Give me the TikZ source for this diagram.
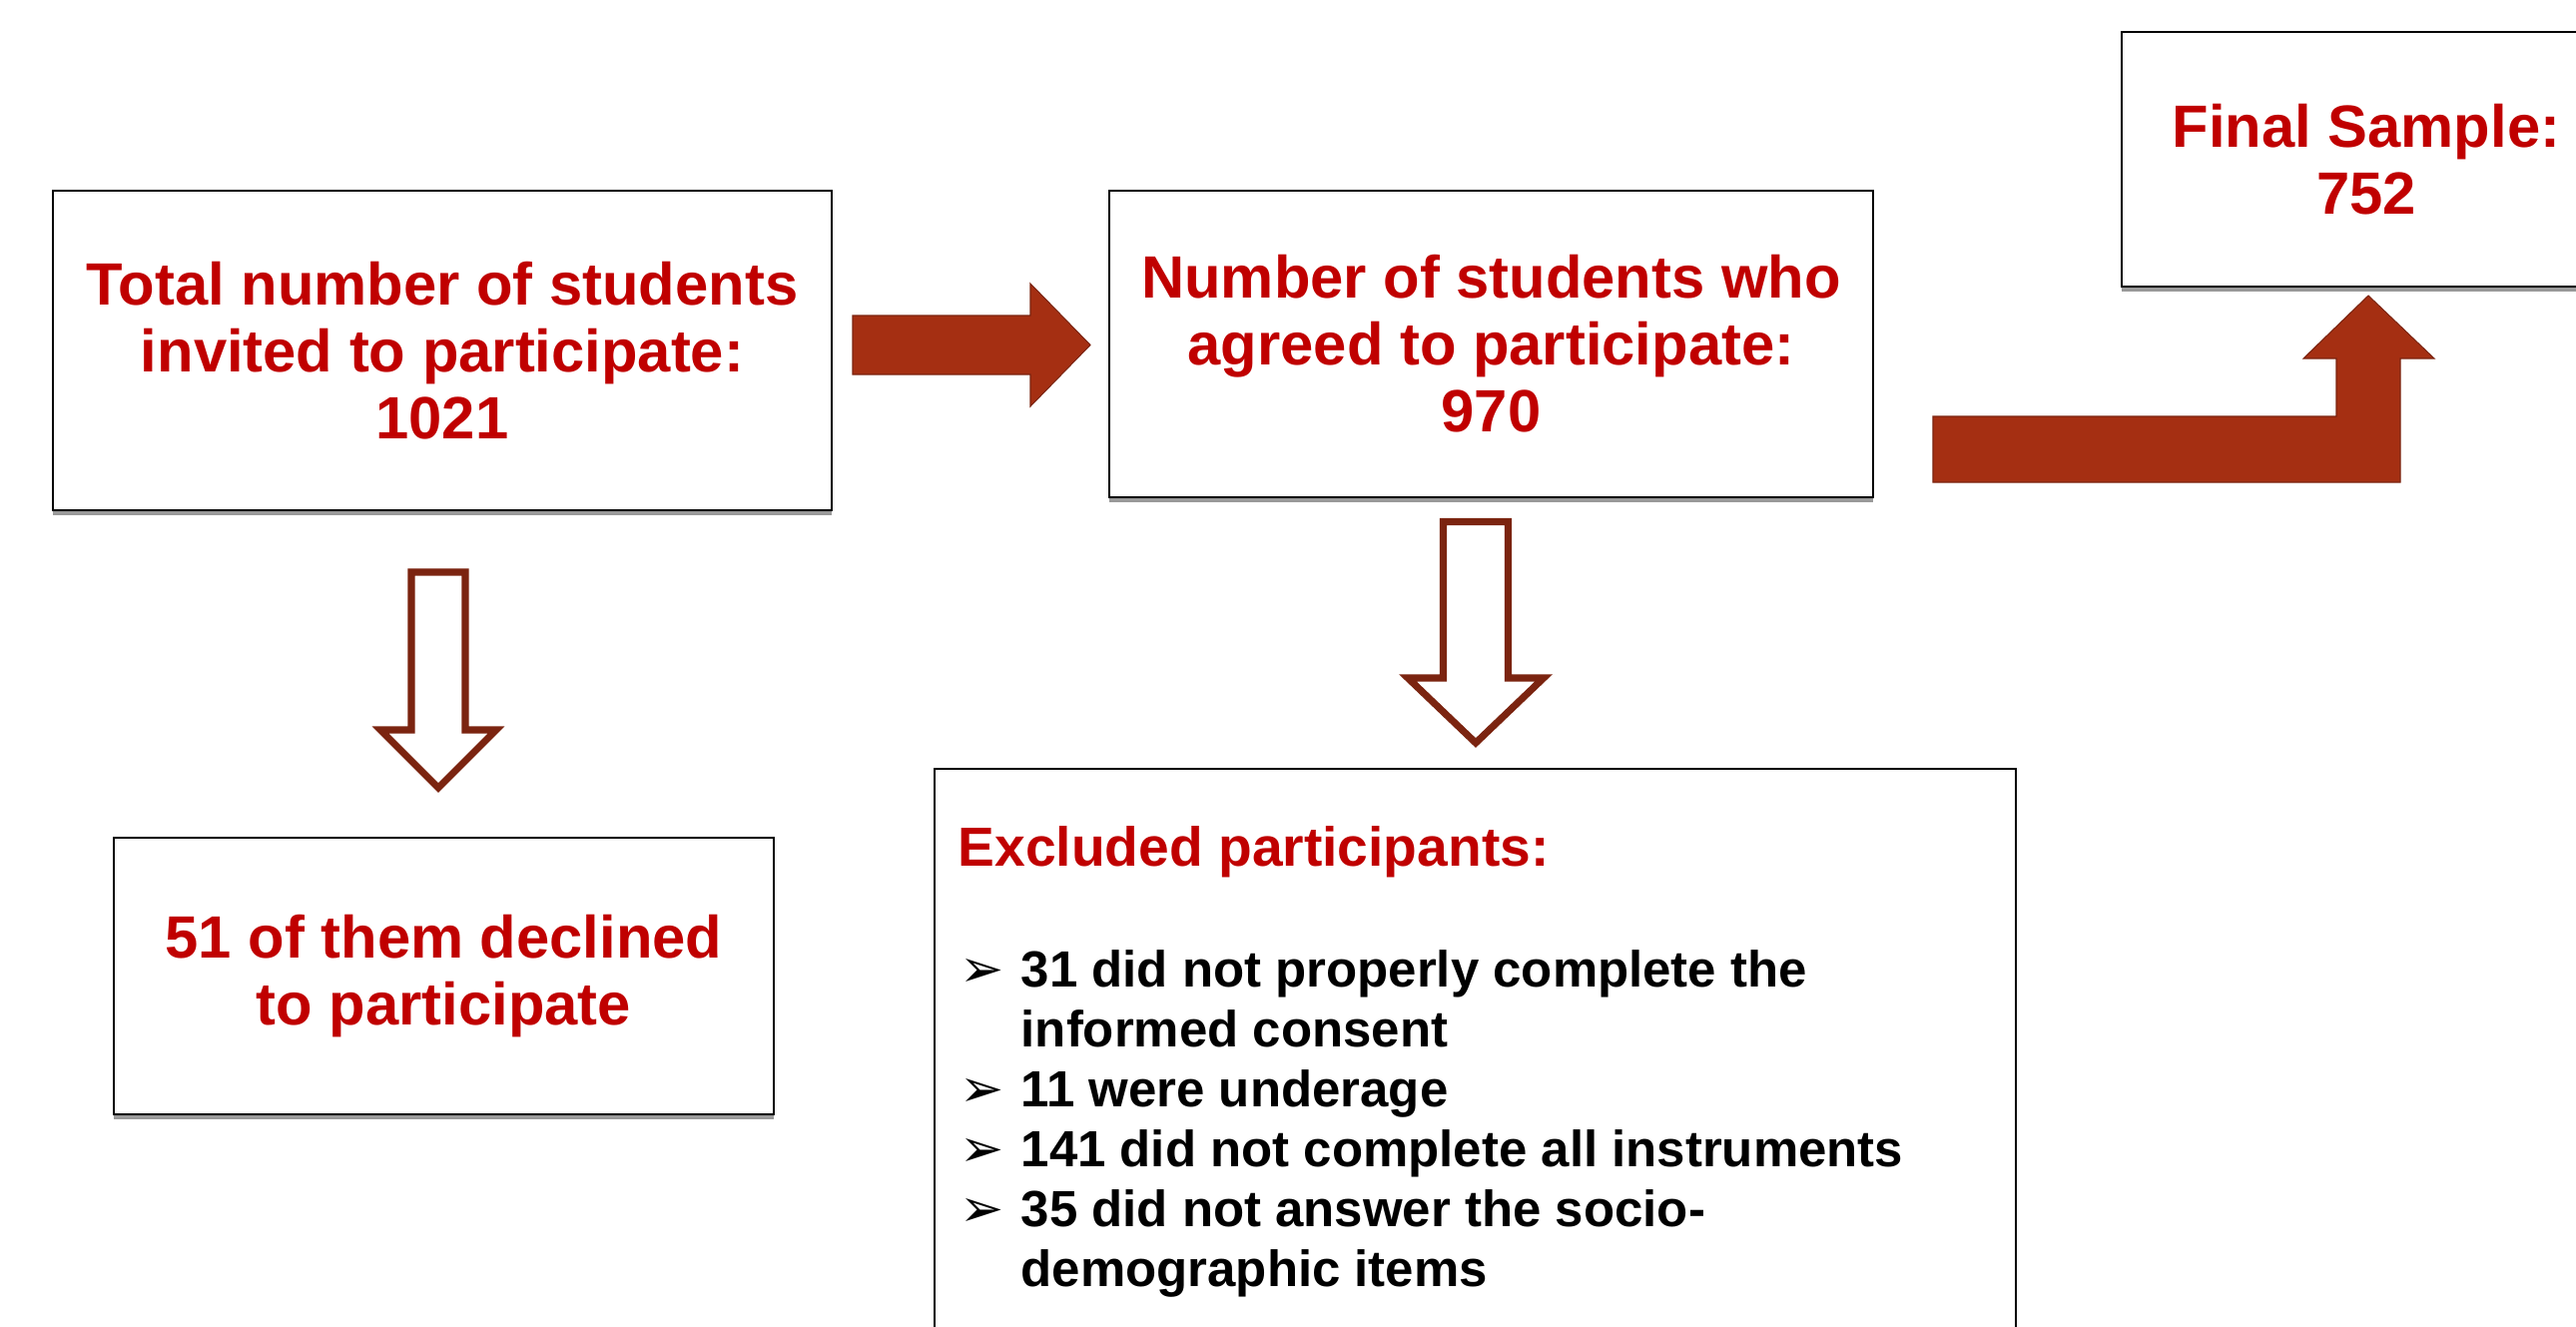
\documentclass[tikz,border=0pt]{standalone}
\usepackage{fontspec}
\setmainfont{Liberation Sans}
\newfontfamily\dingfont{DejaVu Sans}
\usetikzlibrary{calc,shadows}

\definecolor{textred}{RGB}{192,0,0}
\definecolor{arrowred}{RGB}{165,47,18}
\definecolor{arrowedge}{RGB}{123,36,16}

\newcommand{\exbullet}{\makebox[6.1mm][l]{\dingfont\fontsize{15}{15}\selectfont ➢}}

\begin{document}
\begin{tikzpicture}[x=0.1mm, y=-0.1mm,
    box/.style={draw, line width=0.8pt, fill=white,
        drop shadow={shadow xshift=0pt, shadow yshift=-1.5pt, fill=black!40, opacity=1}},
    redtext/.style={text=textred, font=\fontsize{17}{19.06}\selectfont\bfseries, align=center},
    blockarrow/.style={fill=arrowred, draw=arrowedge, line width=0.3pt},
    openarrow/.style={draw=arrowedge, fill=white, line width=2pt, line join=miter}]
    \useasboundingbox (0,0) rectangle (2580,1329);
    \clip (0,0) rectangle (2580,1329);

    % 方框
    \node[box, redtext, minimum width=78mm, minimum height=32mm] (total) at (443,351)
        {Total number of students\\ invited to participate:\\ 1021};
    \node[box, redtext, minimum width=76.5mm, minimum height=30.7mm] (agreed) at (1493.5,344.5)
        {Number of students who\\ agreed to participate:\\ 970};
    \node[box, redtext, minimum width=49mm, minimum height=25.5mm] (final) at (2370,159.5)
        {Final Sample:\\ 752};
    \node[box, redtext, minimum width=66.1mm, minimum height=27.7mm] (declined) at (444.5,977.5)
        {51 of them declined\\ to participate};
    \node[box, minimum width=108.3mm, minimum height=59mm] (excluded) at (1477.5,1065) {};

    % 文字
    \node[anchor=base west, inner sep=0pt, text=textred,
        font=\fontsize{15.7}{18}\selectfont\bfseries] (exctitle) at (959,867) {Excluded participants:};
    \node[anchor=north west, inner sep=0pt, align=left,
        font=\fontsize{14.5}{17.07}\selectfont\bfseries] (exclist) at (961,951)
        {\exbullet 31 did not properly complete the\\
         \hspace*{6.1mm}informed consent\\
         \exbullet 11 were underage\\
         \exbullet 141 did not complete all instruments\\
         \exbullet 35 did not answer the socio-\\
         \hspace*{6.1mm}demographic items};

    % 实心箭头
    \draw[blockarrow] (854,316) -- (1032,316) -- (1032,284) -- (1092,345.5)
        -- (1032,407) -- (1032,375) -- (854,375) -- cycle;
    \draw[blockarrow] (1936,417) -- (2340,417) -- (2340,359) -- (2307,359) -- (2372,296)
        -- (2438,359) -- (2404,359) -- (2404,483) -- (1936,483) -- cycle;

    % 空心箭头
    \draw[openarrow] (412,573) -- (466,573) -- (466,731) -- (497,731) -- (439,789)
        -- (381,731) -- (412,731) -- cycle;
    \draw[openarrow] (1445.5,522.5) -- (1510.5,522.5) -- (1510.5,679) -- (1546,679) -- (1478,744)
        -- (1410,679) -- (1445.5,679) -- cycle;
\end{tikzpicture}
\end{document}
